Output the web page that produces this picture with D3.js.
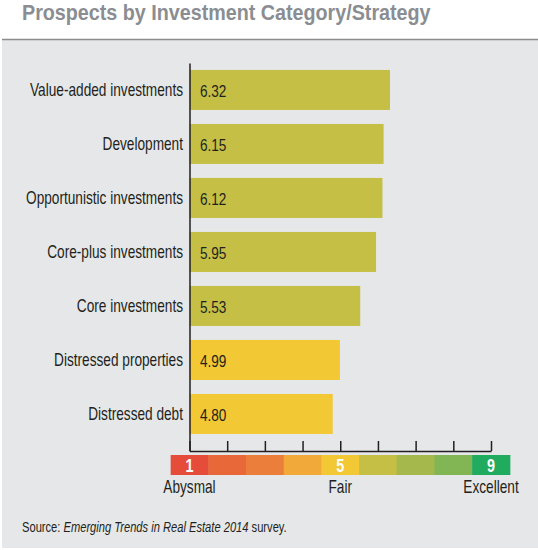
<!DOCTYPE html>
<html>
<head>
<meta charset="utf-8">
<script src="https://cdn.jsdelivr.net/npm/d3@7"></script>
<style>
  html, body { margin: 0; padding: 0; background: #ffffff; }
  svg { display: block; }
  text { font-family: "Liberation Sans", Arial, sans-serif; }
</style>
</head>
<body>
<div id="chart"></div>
<script>
// ---- data ----
const categories = [
  "Value-added investments",
  "Development",
  "Opportunistic investments",
  "Core-plus investments",
  "Core investments",
  "Distressed properties",
  "Distressed debt"
];
const values = [6.32, 6.15, 6.12, 5.95, 5.53, 4.99, 4.80];
const scaleSteps = [1, 2, 3, 4, 5, 6, 7, 8, 9];
const scaleColors = ["#E54D3A", "#E9683A", "#EC7E3B", "#F1AA3A", "#F2C834", "#C5BF45", "#A4B84C", "#82B654", "#21AB5F"];
const numberedSteps = [1, 5, 9];
const scaleLabels = [{v: 1, t: "Abysmal"}, {v: 5, t: "Fair"}, {v: 9, t: "Excellent"}];
const title = "Prospects by Investment Category/Strategy";

const W = 538, H = 550;
const NARROW = 0.78;
const svg = d3.select("#chart").append("svg").attr("width", W).attr("height", H);

// horizontally condense a text element around its anchor x
function condense(sel, f) {
  sel.each(function () {
    const t = d3.select(this);
    const x0 = +t.attr("x") || 0;
    t.attr("x", x0 / f).attr("transform", `scale(${f},1)`);
  });
}
// condense to a target width
function fitWidth(sel, w) {
  sel.each(function () {
    const nat = this.getComputedTextLength();
    condense(d3.select(this), w / nat);
  });
}

// panel
svg.append("rect").attr("x", 2).attr("y", 39).attr("width", W - 2).attr("height", H - 39 - 2).attr("fill", "#E6E7E8");
svg.append("line").attr("x1", 2).attr("x2", W).attr("y1", 39.5).attr("y2", 39.5)
  .attr("stroke", "#8C8C8C").attr("stroke-width", 1.5);

// title
svg.append("text").attr("x", 22).attr("y", 20)
  .attr("font-size", 22).attr("font-weight", "bold").attr("fill", "#8A8D91")
  .text(title)
  .call(fitWidth, 409);

// scales
const x = d3.scaleLinear().domain([1, 9]).range([189.5, 491]);
const unit = x(2) - x(1);
const y = d3.scaleBand().domain(categories).range([63, 451])
  .paddingInner(14 / 54).paddingOuter(0.222).align(0.29);

// bars
const data = categories.map((c, i) => ({c, v: values[i]}));
svg.append("g").selectAll("rect").data(data).join("rect")
  .attr("x", x(1))
  .attr("y", d => y(d.c))
  .attr("width", d => x(d.v) - x(1))
  .attr("height", y.bandwidth())
  .attr("fill", d => scaleColors[Math.round(d.v) - 1]);

svg.append("g").selectAll("text").data(data).join("text")
  .attr("x", x(1) + 10.5)
  .attr("y", d => y(d.c) + y.bandwidth() / 2)
  .attr("dy", "0.4em")
  .attr("font-size", 17)
  .attr("fill", "#231F20")
  .text(d => d.v.toFixed(2))
  .call(condense, 0.8);

// y axis (category labels + vertical line)
const yAxis = svg.append("g").attr("transform", `translate(${x(1)},0)`)
  .call(d3.axisLeft(y).tickSize(0).tickPadding(6.5));
yAxis.select(".domain").attr("stroke", "#231F20").attr("stroke-width", 1.5);
yAxis.selectAll("text").attr("font-size", 17.5).attr("fill", "#231F20")
  .attr("dy", "0.36em")
  .attr("font-family", "'Liberation Sans', Arial, sans-serif")
  .call(condense, NARROW);

// x axis (ticks pointing up)
const xAxis = svg.append("g").attr("transform", "translate(0,451)")
  .call(d3.axisTop(x).tickValues(scaleSteps).tickSize(10).tickSizeOuter(0).tickFormat(""));
xAxis.select(".domain").attr("stroke", "#231F20").attr("stroke-width", 1.5);
xAxis.selectAll(".tick line").attr("stroke", "#231F20").attr("stroke-width", 1.5);

// color scale legend
const legend = svg.append("g");
legend.selectAll("rect").data(scaleSteps).join("rect")
  .attr("x", d => x(d) - unit / 2)
  .attr("y", 455)
  .attr("width", unit + 0.5)
  .attr("height", 20)
  .attr("fill", (d, i) => scaleColors[i]);
legend.selectAll("text.num").data(numberedSteps).join("text")
  .attr("class", "num")
  .attr("x", d => x(d))
  .attr("y", 465)
  .attr("dy", "0.37em")
  .attr("text-anchor", "middle")
  .attr("font-size", 18)
  .attr("font-weight", "bold")
  .attr("fill", "#FFFFFF")
  .text(d => d)
  .call(condense, 0.8);
legend.selectAll("text.lab").data(scaleLabels).join("text")
  .attr("class", "lab")
  .attr("x", d => x(d.v))
  .attr("y", 493)
  .attr("text-anchor", "middle")
  .attr("font-size", 17.5)
  .attr("fill", "#231F20")
  .text(d => d.t)
  .call(condense, NARROW);

// source
const src = svg.append("text").attr("x", 22).attr("y", 532).attr("font-size", 15).attr("fill", "#231F20");
src.append("tspan").text("Source: ");
src.append("tspan").attr("font-style", "italic").text("Emerging Trends in Real Estate 2014");
src.append("tspan").text(" survey.");
src.call(fitWidth, 265);
</script>
</body>
</html>
